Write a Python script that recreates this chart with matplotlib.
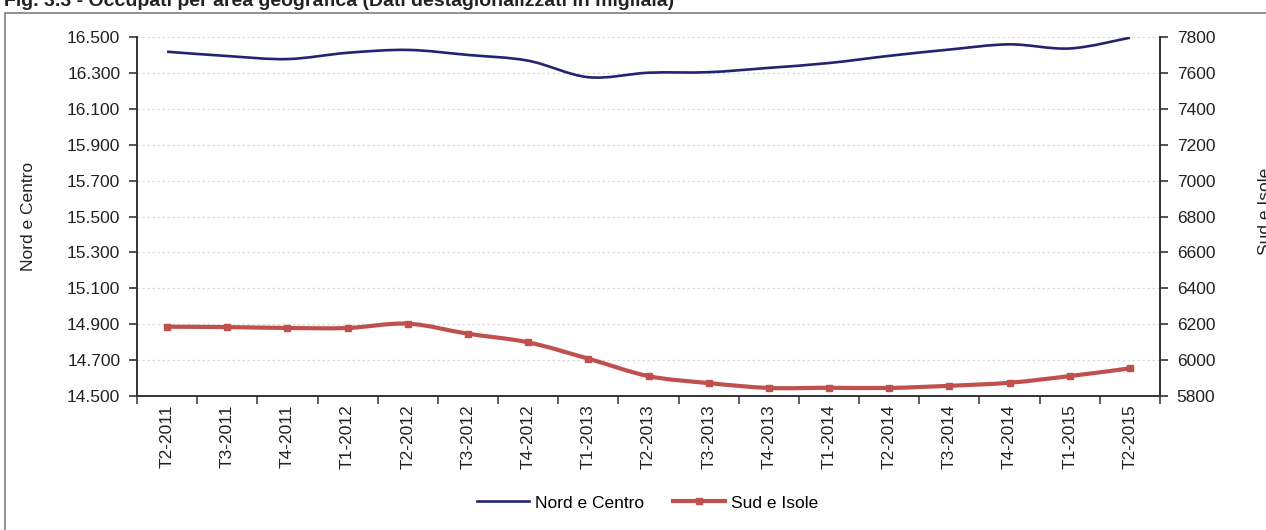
import matplotlib
matplotlib.use("Agg")
import matplotlib.pyplot as plt
from matplotlib.path import Path
from matplotlib.patches import PathPatch, Rectangle
from matplotlib.lines import Line2D
from matplotlib.ticker import FuncFormatter

plt.rcParams["font.family"] = ["Liberation Sans", "DejaVu Sans"]

quarters = ["T2-2011", "T3-2011", "T4-2011", "T1-2012", "T2-2012", "T3-2012",
            "T4-2012", "T1-2013", "T2-2013", "T3-2013", "T4-2013", "T1-2014",
            "T2-2014", "T3-2014", "T4-2014", "T1-2015", "T2-2015"]
nord_centro = [16418, 16394, 16377, 16412, 16428, 16400, 16368, 16276, 16301,
               16304, 16328, 16355, 16395, 16430, 16459, 16436, 16496]
sud_isole = [6186, 6184, 6179, 6179, 6203, 6147, 6099, 6008, 5911, 5872, 5845,
             5846, 5845, 5857, 5874, 5911, 5954]
left_ticks = [14500, 14700, 14900, 15100, 15300, 15500, 15700, 15900, 16100,
              16300, 16500]
right_ticks = [5800, 6000, 6200, 6400, 6600, 6800, 7000, 7200, 7400, 7600, 7800]

blue = "#232370"
red = "#c0504d"
fs = 12.5


def smooth_path(xs, ys):
    # excel-like smoothed line: cubic bezier through every point
    pts = list(zip(xs, ys))
    n = len(pts)
    verts = [pts[0]]
    codes = [Path.MOVETO]
    for i in range(n - 1):
        p0 = pts[max(i - 1, 0)]
        p1 = pts[i]
        p2 = pts[i + 1]
        p3 = pts[min(i + 2, n - 1)]
        c1 = (p1[0] + (p2[0] - p0[0]) / 6, p1[1] + (p2[1] - p0[1]) / 6)
        c2 = (p2[0] - (p3[0] - p1[0]) / 6, p2[1] - (p3[1] - p1[1]) / 6)
        verts += [c1, c2, p2]
        codes += [Path.CURVE4] * 3
    return Path(verts, codes)


fig = plt.figure(figsize=(12.66, 5.30), dpi=100)
ax = fig.add_axes([0.1082, 0.2528, 0.8081, 0.6774])
ax2 = ax.twinx()

x = list(range(len(quarters)))

ax.add_patch(PathPatch(smooth_path(x, nord_centro), facecolor="none",
                       edgecolor=blue, lw=1.9, capstyle="butt", zorder=3))
ax2.add_patch(PathPatch(smooth_path(x, sud_isole), facecolor="none",
                        edgecolor=red, lw=3.0, capstyle="butt", zorder=3))
ax2.plot(x, sud_isole, linestyle="none", marker="s", markersize=5,
         color=red, zorder=4)

ax.set_xlim(-0.5, len(quarters) - 0.5)
ax.set_ylim(14500, 16500)
ax2.set_ylim(5800, 7800)
ax.set_yticks(left_ticks)
ax2.set_yticks(right_ticks)
ax.yaxis.set_major_formatter(FuncFormatter(lambda v, p: f"{v:,.0f}".replace(",", ".")))

ax.set_xticks(x)
ax.set_xticklabels(quarters, rotation=90, fontsize=fs, color="#222222")
ax.set_xticks([i - 0.5 for i in range(len(quarters) + 1)], minor=True)
ax.tick_params(axis="x", which="major", length=0, pad=6)
ax.tick_params(axis="x", which="minor", length=6, width=1.2, color="#444444")
ax.tick_params(axis="y", length=6, width=1.2, color="#333333", labelsize=fs,
               labelcolor="#222222", pad=6)
ax2.tick_params(axis="y", length=6, width=1.2, color="#333333", labelsize=fs,
                labelcolor="#222222", pad=6)

ax.grid(axis="y", color="#d9d9d9", linestyle=(0, (2, 2)), linewidth=0.9)
ax.set_axisbelow(True)
for a in (ax, ax2):
    a.spines["top"].set_visible(False)
    for side in ("left", "right", "bottom"):
        a.spines[side].set_color("#333333")
        a.spines[side].set_linewidth(1.2)

ax.set_ylabel("Nord e Centro", fontsize=fs, color="#222222", labelpad=22)
fig.text(1.0, 0.602, "Sud e Isole", rotation=90, fontsize=fs,
         color="#222222", ha="center", va="center")

handles = [Line2D([], [], color=blue, lw=1.9),
           Line2D([], [], color=red, lw=3.0, marker="s", markersize=5)]
fig.legend(handles, ["Nord e Centro", "Sud e Isole"], loc="center",
           bbox_to_anchor=(0.5115, 0.051), ncol=2, frameon=False, fontsize=fs,
           handlelength=3.0, handletextpad=0.3, columnspacing=1.7)

fig.add_artist(Rectangle((5 / 1266, -0.1), 1.2, 1.1 - 13 / 530,
                         transform=fig.transFigure, facecolor="none",
                         edgecolor="#7f7f7f", lw=1.2))
fig.text(0.003, 0.9887, "Fig. 3.3 - Occupati per area geografica "
         "(Dati destagionalizzati in migliaia)", fontsize=14,
         fontweight="bold", color="#222222", ha="left", va="baseline")

fig.savefig("out.png", dpi=100)
